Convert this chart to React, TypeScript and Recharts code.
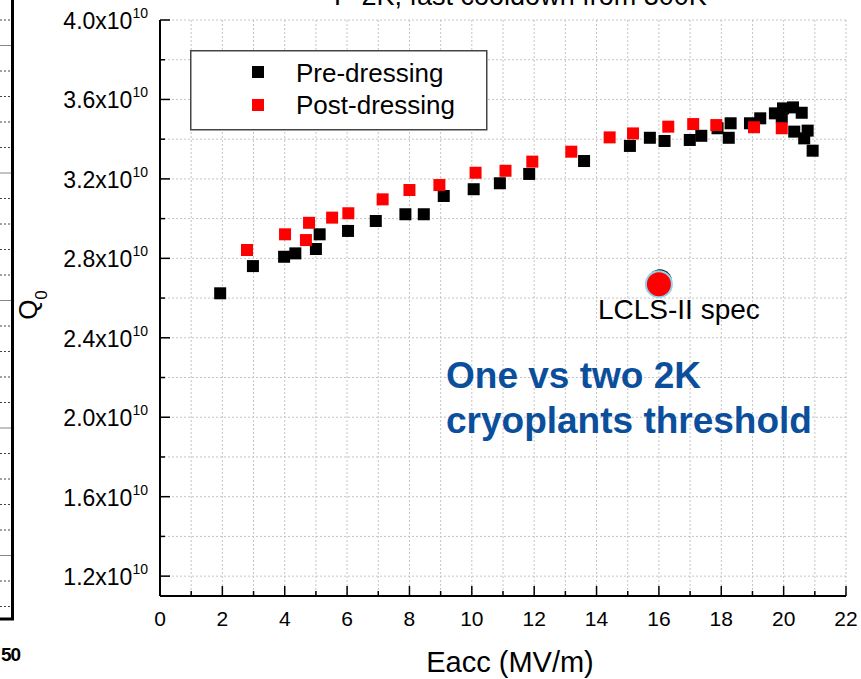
import React from "react";
import { ScatterChart, Scatter, XAxis, YAxis, CartesianGrid, Legend } from "recharts";

const FONT = "'Liberation Sans', Arial, Helvetica, sans-serif";

// axis ticks (Eacc in MV/m, Q0 in units of 1e10)
const xTicks = [0, 1, 2, 3, 4, 5, 6, 7, 8, 9, 10, 11, 12, 13, 14, 15, 16, 17, 18, 19, 20, 21, 22];
const yTicks = [1.2, 1.4, 1.6, 1.8, 2.0, 2.2, 2.4, 2.6, 2.8, 3.0, 3.2, 3.4, 3.6, 3.8, 4.0];

// Pre-dressing (black)
const preEacc = [
  1.93, 2.98, 3.98, 4.34, 5.0, 5.12, 6.03, 6.92, 7.87, 8.46, 9.1, 10.06, 10.9, 11.84, 13.6, 15.07, 15.71,
  16.18, 16.99, 17.36, 17.88, 18.24, 18.3, 18.92, 19.25, 19.72, 19.94, 19.98, 20.3, 20.58, 20.34, 20.77,
  20.66, 20.93,
];
const preQ0 = [
  2.624, 2.761, 2.808, 2.825, 2.847, 2.921, 2.938, 2.988, 3.022, 3.022, 3.114, 3.148, 3.178, 3.225, 3.29,
  3.366, 3.407, 3.391, 3.396, 3.417, 3.455, 3.407, 3.48, 3.48, 3.505, 3.53, 3.51, 3.555, 3.56, 3.533, 3.438,
  3.443, 3.404, 3.342,
];

// Post-dressing (red)
const postEacc = [
  2.79, 4.01, 4.68, 4.78, 5.52, 6.04, 7.14, 8.0, 8.96, 10.12, 11.08, 11.94, 13.19, 14.42, 15.17, 16.3, 17.1,
  17.84, 19.05, 19.94,
];
const postQ0 = [
  2.842, 2.921, 2.892, 2.979, 3.005, 3.027, 3.097, 3.144, 3.169, 3.231, 3.241, 3.287, 3.337, 3.409, 3.429,
  3.463, 3.476, 3.471, 3.46, 3.455,
];

// LCLS-II spec point
const specEacc = [16];
const specQ0 = [2.67];

const preData = preEacc.map((x, i) => ({ eacc: x, q0: preQ0[i] }));
const postData = postEacc.map((x, i) => ({ eacc: x, q0: postQ0[i] }));
const specData = specEacc.map((x, i) => ({ eacc: x, q0: specQ0[i] }));

const isMajorX = (v: number) => Math.round(v) % 2 === 0;
const isMajorY = (v: number) => Math.round(v * 10) % 4 === 0;

function BottomTick({ x, y, payload }: any) {
  const v = payload.value;
  const major = isMajorX(v);
  return (
    <g>
      <line x1={x} x2={x} y1={y} y2={y - (major ? 10 : 5)} stroke="#000" strokeWidth={1.5} />
      {major && (
        <text x={x} y={y + 30} textAnchor="middle" fontSize={21} fontFamily={FONT} fill="#000">
          {v}
        </text>
      )}
    </g>
  );
}

function TopTick({ x, y, payload }: any) {
  const major = isMajorX(payload.value);
  return <line x1={x} x2={x} y1={y} y2={y + (major ? 10 : 5)} stroke="#000" strokeWidth={1.5} />;
}

function LeftTick({ x, y, payload }: any) {
  const v = payload.value;
  const major = isMajorY(v);
  return (
    <g>
      <line x1={x} x2={x + (major ? 10 : 5)} y1={y} y2={y} stroke="#000" strokeWidth={1.5} />
      {major && (
        <text x={x - 12} y={y + 9} textAnchor="end" fontSize={23} fontFamily={FONT} fill="#000">
          {v.toFixed(1)}x10
          <tspan dy={-11} fontSize={14}>
            10
          </tspan>
        </text>
      )}
    </g>
  );
}

function RightTick({ x, y, payload }: any) {
  const major = isMajorY(payload.value);
  return <line x1={x} x2={x - (major ? 10 : 5)} y1={y} y2={y} stroke="#000" strokeWidth={1.5} />;
}

const squareShape = (fill: string) => (props: any) => {
  const { cx, cy } = props;
  if (cx == null || cy == null) return <g />;
  return <rect x={cx - 6} y={cy - 6} width={12} height={12} fill={fill} />;
};

function SpecShape(props: any) {
  const { cx, cy } = props;
  if (cx == null || cy == null) return <g />;
  return (
    <g>
      <circle cx={cx + 1} cy={cy - 3} r={12} fill="#222" />
      <circle cx={cx} cy={cy} r={13} fill="#ff0000" stroke="#8fd3ef" strokeWidth={2} />
      <text x={cx + 20} y={cy + 35} textAnchor="middle" fontSize={28} fontFamily={FONT} fill="#000">
        LCLS-II spec
      </text>
    </g>
  );
}

function LegendBox() {
  return (
    <svg width={298} height={81} style={{ display: "block" }}>
      <rect x={0.75} y={0.75} width={296} height={79} fill="#fff" stroke="#444" strokeWidth={1.5} />
      <rect x={62} y={16} width={12} height={12} fill="#000" />
      <text x={106} y={32} fontSize={26} fontFamily={FONT} fill="#000">
        Pre-dressing
      </text>
      <rect x={62} y={49} width={12} height={12} fill="#ff0000" />
      <text x={106} y={64} fontSize={26} fontFamily={FONT} fill="#000">
        Post-dressing
      </text>
    </svg>
  );
}

function Decorations() {
  const dashes: number[] = [];
  for (let k = 0; k < 24; k++) dashes.push(20 + k * 25.5);
  return (
    <svg
      width={861}
      height={679}
      style={{ position: "absolute", left: 0, top: 0, pointerEvents: "none" }}
    >
      {/* neighbouring panel edge */}
      {dashes.map((d, i) => (
        <line
          key={i}
          x1={0}
          x2={11}
          y1={d}
          y2={d}
          stroke={i % 5 === 1 ? "#888" : "#444"}
          strokeWidth={1}
          strokeDasharray={i % 5 === 1 ? undefined : "2 2"}
        />
      ))}
      <line x1={12.5} x2={12.5} y1={0} y2={620} stroke="#000" strokeWidth={3} />
      <line x1={0} x2={14} y1={619} y2={619} stroke="#000" strokeWidth={3} />
      <text x={1} y={661} fontSize={19} fontWeight="bold" fontFamily={FONT} fill="#000" letterSpacing={-1}>
        50
      </text>

      {/* cut-off title */}
      <text x={518} y={5} textAnchor="middle" fontSize={27} fontFamily={FONT} fill="#000">
        T=2K, fast cooldown from 300K
      </text>

      {/* axis titles */}
      <text
        transform="translate(37,305) rotate(-90)"
        textAnchor="middle"
        fontSize={26}
        fontFamily={FONT}
        fill="#000"
      >
        Q
        <tspan dy={10} fontSize={17}>
          0
        </tspan>
      </text>
      <text x={510} y={672} textAnchor="middle" fontSize={29} fontFamily={FONT} fill="#000">
        Eacc (MV/m)
      </text>

      {/* annotation */}
      <text x={446} y={388} fontSize={37} fontWeight="bold" fontFamily={FONT} fill="#0b4f9c">
        One vs two 2K
      </text>
      <text x={446} y={433} fontSize={37} fontWeight="bold" fontFamily={FONT} fill="#0b4f9c">
        cryoplants threshold
      </text>
    </svg>
  );
}

export default function App() {
  const axisLine = { stroke: "#000", strokeWidth: 2 };
  return (
    <div style={{ position: "absolute", left: 0, top: 0, width: 861, height: 679, background: "#fff" }}>
      <ScatterChart width={861} height={679} margin={{ top: 20, right: 15, bottom: 0, left: 0 }}>
        <CartesianGrid
          xAxisId="b"
          yAxisId="l"
          stroke="#c4c4c4"
          strokeDasharray="2 2"
        />
        <XAxis
          xAxisId="b"
          type="number"
          dataKey="eacc"
          domain={[0, 22]}
          ticks={xTicks}
          interval={0}
          height={83}
          tickSize={0}
          tickMargin={0}
          axisLine={axisLine}
          tick={<BottomTick />}
          allowDataOverflow
        />
        <XAxis
          xAxisId="t"
          orientation="top"
          type="number"
          dataKey="eacc"
          domain={[0, 22]}
          ticks={xTicks}
          interval={0}
          height={0}
          tickSize={0}
          tickMargin={0}
          axisLine={axisLine}
          tick={<TopTick />}
          allowDataOverflow
        />
        <YAxis
          yAxisId="l"
          type="number"
          dataKey="q0"
          domain={[1.1, 4.0]}
          ticks={yTicks}
          interval={0}
          width={160}
          tickSize={0}
          tickMargin={0}
          axisLine={axisLine}
          tick={<LeftTick />}
          allowDataOverflow
        />
        <YAxis
          yAxisId="r"
          orientation="right"
          type="number"
          dataKey="q0"
          domain={[1.1, 4.0]}
          ticks={yTicks}
          interval={0}
          width={0}
          tickSize={0}
          tickMargin={0}
          axisLine={axisLine}
          tick={<RightTick />}
          allowDataOverflow
        />
        <Legend
          verticalAlign="middle"
          align="center"
          layout="horizontal"
          wrapperStyle={{ left: 190, top: 50, width: 298, height: 81 }}
          content={() => <LegendBox />}
        />
        <Scatter
          name="Pre-dressing"
          data={preData}
          xAxisId="b"
          yAxisId="l"
          fill="#000"
          shape={squareShape("#000")}
          isAnimationActive={false}
        />
        <Scatter
          name="Post-dressing"
          data={postData}
          xAxisId="b"
          yAxisId="l"
          fill="#ff0000"
          shape={squareShape("#ff0000")}
          isAnimationActive={false}
        />
        <Scatter
          name="LCLS-II spec"
          data={specData}
          xAxisId="b"
          yAxisId="l"
          fill="#ff0000"
          shape={SpecShape}
          legendType="none"
          isAnimationActive={false}
        />
      </ScatterChart>
      <Decorations />
    </div>
  );
}
